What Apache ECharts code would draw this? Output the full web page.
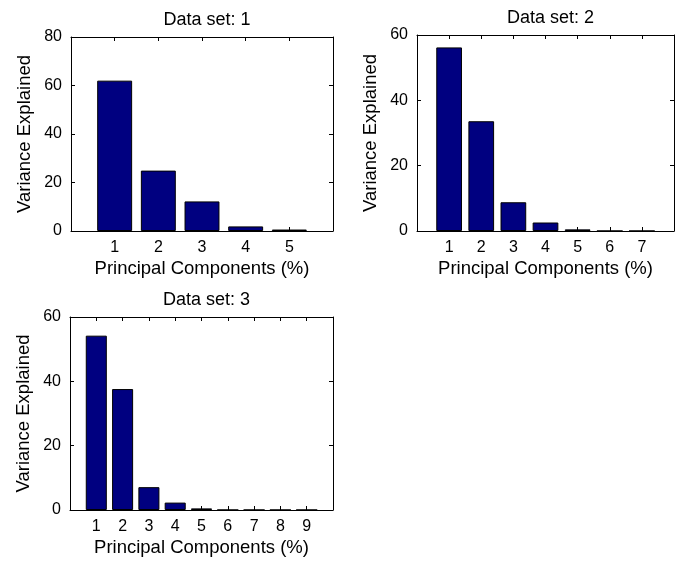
<!DOCTYPE html>
<html>
<head>
<meta charset="utf-8">
<title>Principal component variance</title>
<script src="https://cdn.jsdelivr.net/npm/echarts@6/dist/echarts.min.js"></script>
<style>
  html, body { margin: 0; padding: 0; background: #fff; }
  #chart { width: 685px; height: 563px; }
</style>
</head>
<body>
<div id="chart"></div>
<script>
// Percent of variance explained by each principal component, per data set
const dataSetNames = ['Data set: 1', 'Data set: 2', 'Data set: 3'];
const variance1 = [62.0, 24.9, 12.2, 1.9, 0.6];
const variance2 = [56.2, 33.6, 8.8, 2.6, 0.5, 0.01, 0.01];
const variance3 = [54.2, 37.6, 7.1, 2.3, 0.5, 0.01, 0.01, 0.01, 0.01];
const yMax = [80, 60, 60];
const yStep = 20;
const xLabel = 'Principal Components (%)';
const yLabel = 'Variance Explained';

const varianceSets = [variance1, variance2, variance3];

const FONT = '"Liberation Sans", Arial, sans-serif';
const INK = '#000';
const BAR = '#000080';

// panel frames (pixels)
const grids = [
  { left: 71, top: 37, width: 262, height: 194 },
  { left: 417, top: 35, width: 257, height: 196 },
  { left: 70, top: 317, width: 263, height: 193 }
];

const titles = [], xAxes = [], yAxes = [], series = [];

varianceSets.forEach((vals, i) => {
  const g = grids[i];
  const n = vals.length;
  titles.push({
    text: dataSetNames[i],
    left: g.left + g.width / 2,
    top: g.top - 31,
    textAlign: 'center',
    textStyle: { fontFamily: FONT, fontSize: 18, fontWeight: 'normal', color: INK }
  });
  const tickCfg = { show: true, inside: true, length: 4, lineStyle: { color: INK } };
  const lineCfg = { show: true, onZero: false, lineStyle: { color: INK, width: 1 } };
  // bottom axis with component numbers
  xAxes.push({
    gridIndex: i, type: 'value', position: 'bottom',
    min: 0, max: n + 1, interval: 1,
    name: xLabel, nameLocation: 'middle', nameGap: 28,
    nameTextStyle: { fontFamily: FONT, fontSize: 18.5, color: INK },
    axisLine: lineCfg, axisTick: tickCfg, splitLine: { show: false },
    axisLabel: {
      margin: 9, fontFamily: FONT, fontSize: 16, color: INK,
      formatter: v => (v >= 1 && v <= n ? String(v) : '')
    }
  });
  // top frame edge with ticks
  xAxes.push({
    gridIndex: i, type: 'value', position: 'top',
    min: 0, max: n + 1, interval: 1,
    axisLine: lineCfg, axisTick: tickCfg, splitLine: { show: false },
    axisLabel: { show: false }
  });
  // left value axis
  yAxes.push({
    gridIndex: i, type: 'value', position: 'left',
    min: 0, max: yMax[i], interval: yStep,
    name: yLabel, nameLocation: 'middle', nameGap: 37, nameRotate: 90,
    nameTextStyle: { fontFamily: FONT, fontSize: 18.5, color: INK },
    axisLine: lineCfg, axisTick: tickCfg, splitLine: { show: false },
    axisLabel: { margin: 9, fontFamily: FONT, fontSize: 16, color: INK }
  });
  // right frame edge with ticks
  yAxes.push({
    gridIndex: i, type: 'value', position: 'right',
    min: 0, max: yMax[i], interval: yStep,
    axisLine: lineCfg, axisTick: tickCfg, splitLine: { show: false },
    axisLabel: { show: false }
  });
  series.push({
    type: 'bar',
    xAxisIndex: 2 * i, yAxisIndex: 2 * i,
    data: vals.map((v, k) => [k + 1, v]),
    barWidth: '80%',
    itemStyle: { color: BAR, borderColor: INK, borderWidth: 1 },
    silent: true
  });
});

const chart = echarts.init(document.getElementById('chart'), null, { renderer: 'canvas' });
chart.setOption({
  backgroundColor: '#fff',
  animation: false,
  title: titles,
  grid: grids,
  xAxis: xAxes,
  yAxis: yAxes,
  series: series
});
</script>
</body>
</html>
